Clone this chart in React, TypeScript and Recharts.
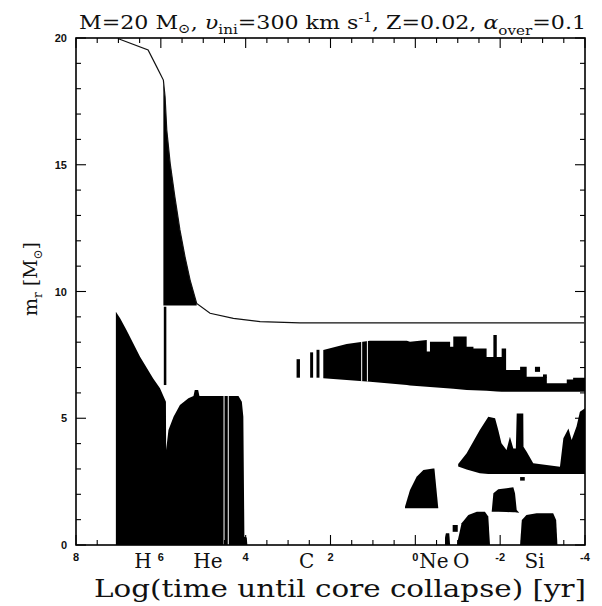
import { Area, ComposedChart, Line, ReferenceLine, XAxis, YAxis } from "recharts";

// [log t, lower m_r, upper m_r] for each convective zone
const coreHHe: [number, number, number][] = [
  [7.06, 0, 9.2], [6.96, 0, 8.94], [6.81, 0, 8.48], [6.49, 0, 7.43], [6.18, 0, 6.57],
  [6.02, 0, 6.18], [5.88, 0, 5.65], [5.875, 0, 3.75], [5.82, 0, 4.54], [5.7, 0, 5.06],
  [5.55, 0, 5.52], [5.35, 0, 5.79], [5.23, 0, 5.88], [5.2, 0, 6.11], [5.12, 0, 6.11],
  [5.09, 0, 5.88], [4.17, 0, 5.88], [4.09, 0, 5.65], [4.055, 0, 5.06], [4.03, 0, 0.33],
  [3.975, 0, 0.3], [3.96, 0, 0],
];
const envelope: [number, number, number][] = [
  [5.94, 9.45, 18.28], [5.9, 9.45, 17.68], [5.86, 9.45, 16.37], [5.78, 9.45, 15.06],
  [5.67, 9.45, 13.74], [5.55, 9.45, 12.43], [5.43, 9.45, 11.37], [5.31, 9.45, 10.45],
  [5.155, 9.45, 9.53],
];
const envelopeTail: [number, number, number][] = [[5.93, 6.31, 9.4], [5.87, 6.31, 9.4]];
const cShell: [number, number, number][] = [
  [2.17, 6.58, 7.69], [1.62, 6.51, 7.93], [1.07, 6.44, 8.06], [0.2, 6.31, 8.06],
  [0.126, 6.29, 8.02], [-0.27, 6.24, 8.09], [-0.27, 6.24, 7.63], [-0.345, 6.23, 7.63],
  [-0.345, 6.23, 8.02], [-0.82, 6.17, 8.02], [-0.82, 6.17, 7.82], [-0.895, 6.16, 7.82],
  [-0.895, 6.16, 8.22], [-1.21, 6.11, 8.22], [-1.21, 6.11, 7.82], [-1.37, 6.1, 7.82],
  [-1.37, 6.1, 7.75], [-1.68, 6.08, 7.75], [-1.68, 6.08, 7.42], [-1.84, 6.07, 7.42],
  [-1.84, 6.07, 8.28], [-1.92, 6.06, 8.28], [-1.92, 6.06, 7.42], [-2.035, 6.05, 7.42],
  [-2.035, 6.05, 7.75], [-2.14, 6.05, 7.75], [-2.14, 6.05, 6.9], [-2.47, 6.05, 6.9],
  [-2.47, 6.05, 7.03], [-2.625, 6.05, 7.03], [-2.625, 6.05, 6.64], [-3.1, 6.05, 6.64],
  [-3.1, 6.05, 6.38], [-3.57, 6.05, 6.38], [-3.57, 6.05, 6.53], [-3.72, 6.05, 6.53],
  [-3.72, 6.05, 6.6], [-4, 6.05, 6.6],
];
const cBar1: [number, number, number][] = [[2.8, 6.6, 7.33], [2.72, 6.6, 7.33]];
const cBar2: [number, number, number][] = [[2.48, 6.6, 7.6], [2.41, 6.6, 7.6]];
const cBar3: [number, number, number][] = [[2.33, 6.6, 7.7], [2.26, 6.6, 7.7]];
const cBlobA: [number, number, number][] = [[-2.82, 6.83, 7.03], [-2.94, 6.83, 7.03]];
const cBlobB: [number, number, number][] = [[-3.01, 6.6, 6.73], [-3.1, 6.6, 6.73]];
const neOShell: [number, number, number][] = [
  [-1.01, 3.1, 3.2], [-1.21, 2.98, 3.62], [-1.52, 2.83, 4.54], [-1.72, 2.8, 5.06],
  [-1.88, 2.8, 5.0], [-1.955, 2.8, 4.54], [-2.03, 2.8, 4.01], [-2.15, 2.8, 3.75],
  [-2.23, 2.8, 4.27], [-2.31, 2.8, 3.81], [-2.37, 2.8, 3.81], [-2.39, 2.8, 5.19],
  [-2.545, 2.8, 5.19], [-2.55, 2.8, 3.88], [-2.625, 2.8, 3.68], [-2.78, 2.8, 3.22],
  [-3.41, 2.8, 3.09], [-3.49, 2.8, 4.21], [-3.61, 2.8, 4.6], [-3.685, 2.8, 4.14],
  [-3.8, 2.8, 4.67], [-3.88, 2.8, 5.26], [-4, 2.8, 5.39],
];
const neShell: [number, number, number][] = [
  [0.244, 1.45, 1.51], [0.126, 1.45, 2.17], [-0.03, 1.45, 2.69], [-0.19, 1.45, 2.96],
  [-0.42, 1.45, 3.02], [-0.45, 1.45, 3.02], [-0.54, 1.45, 1.47],
];
const oShell: [number, number, number][] = [
  [-1.8, 1.31, 1.31], [-1.84, 1.31, 2.04], [-1.955, 1.31, 2.2], [-2.15, 1.3, 2.24],
  [-2.31, 1.29, 2.28], [-2.35, 1.29, 2.04], [-2.39, 1.28, 1.38], [-2.45, 1.27, 1.27],
];
const oBlob: [number, number, number][] = [[-2.47, 2.54, 2.68], [-2.58, 2.54, 2.68]];
const oCoreBump: [number, number, number][] = [[-0.7, 0, 0.3], [-0.72, 0, 0.46], [-0.8, 0, 0.46], [-0.82, 0, 0]];
const oCoreBlob: [number, number, number][] = [[-0.88, 0.52, 0.79], [-1.0, 0.52, 0.79]];
const oCore: [number, number, number][] = [
  [-0.99, 0, 0.1], [-1.09, 0, 0.86], [-1.25, 0, 1.18], [-1.45, 0, 1.31],
  [-1.64, 0, 1.31], [-1.72, 0, 1.12], [-1.76, 0, 0],
];
const siCore: [number, number, number][] = [
  [-2.47, 0, 0], [-2.51, 0, 0.99], [-2.62, 0, 1.18], [-2.86, 0, 1.25],
  [-3.25, 0, 1.25], [-3.32, 0, 0.99], [-3.35, 0, 0],
];
const zones = [
  coreHHe, envelope, envelopeTail, cShell, cBar1, cBar2, cBar3, cBlobA, cBlobB,
  neOShell, neShell, oShell, oBlob, oCoreBump, oCoreBlob, oCore, siCore,
];

// white gaps inside zones: [log t, from, to]
const gaps: [number, number, number][] = [
  [4.51, 0, 5.88], [4.41, 0, 5.88], [1.265, 6.45, 8.05], [1.13, 6.45, 8.05],
];

// total mass (runs along the top frame before log t = 7)
const surface: [number, number][] = [
  [7.0, 19.97], [6.3, 19.53], [6.1, 18.87], [5.94, 18.34], [5.9, 17.68],
  [5.86, 16.37], [5.78, 15.06], [5.67, 13.74], [5.55, 12.43], [5.43, 11.37],
  [5.31, 10.45], [5.155, 9.53], [4.84, 9.14], [4.29, 8.94], [3.66, 8.81],
  [2.72, 8.76], [-3.98, 8.76],
];

const xTicks = [8, 7.5, 7, 6.5, 6, 5.5, 5, 4.5, 4, 3.5, 3, 2.5, 2, 1.5, 1, 0.5, 0, -0.5, -1, -1.5, -2, -2.5, -3, -3.5, -4];
const yTicks = [0, 1, 2, 3, 4, 5, 6, 7, 8, 9, 10, 11, 12, 13, 14, 15, 16, 17, 18, 19, 20];
const elementAt = [6.42, 4.89, 2.56, -0.44, -1.08, -2.81];
const elementNames = ["H", "He", "C", "Ne", "O", "Si"];

const X_MIN = -4, X_MAX = 8, Y_MAX = 20;
const W = 602, H = 606;
const MARGIN = { top: 38, right: 17, bottom: 41, left: 46 };
const Y_AXIS_W = 30, X_AXIS_H = 20;
// plot box implied by the margins and axis sizes above
const BOX = {
  left: MARGIN.left + Y_AXIS_W,
  right: W - MARGIN.right,
  top: MARGIN.top,
  bottom: H - MARGIN.bottom - X_AXIS_H,
};
const sx = (v: number) => BOX.left + ((X_MAX - v) / (X_MAX - X_MIN)) * (BOX.right - BOX.left);
const sy = (v: number) => BOX.bottom - (v / Y_MAX) * (BOX.bottom - BOX.top);

const INK = "black";
const SANS = "'Liberation Sans', Arial, sans-serif";
const SERIF = "'DejaVu Serif', serif";

const isMul = (v: number, m: number) => Math.abs(v / m - Math.round(v / m)) < 1e-6;

function BottomTick(p: any) {
  const v = p.payload.value;
  const ei = elementAt.indexOf(v);
  if (ei >= 0) {
    return (
      <text x={p.x} y={p.y + 23} textAnchor="middle" fontFamily={SERIF} fontSize={20} fill="#111">
        {elementNames[ei]}
      </text>
    );
  }
  if (!isMul(v, 2)) return <g />;
  return (
    <text x={p.x} y={p.y + 16} textAnchor="middle" fontFamily={SANS} fontWeight="bold" fontSize={11} fill="#111">
      {v}
    </text>
  );
}

function LeftTick(p: any) {
  const v = p.payload.value;
  if (!isMul(v, 5)) return <g />;
  return (
    <text x={p.x - 9} y={p.y + 4} textAnchor="end" fontFamily={SANS} fontWeight="bold" fontSize={11} fill="#111">
      {v}
    </text>
  );
}

const toRange = (pts: [number, number, number][]) => pts.map(([x, lo, hi]) => ({ x, r: [lo, hi] }));

export default function App() {
  return (
    <div style={{ position: "absolute", left: 0, top: 0, width: W, height: H, background: "#fff" }}>
      <ComposedChart width={W} height={H} margin={MARGIN}>
        <XAxis dataKey="x" type="number" domain={[X_MIN, X_MAX]} reversed ticks={[...xTicks, ...elementAt]} interval={0}
          height={X_AXIS_H} tickSize={0} tickMargin={0} tickLine={false} axisLine={false} tick={(p: any) => <BottomTick {...p} />} />
        <YAxis type="number" domain={[0, Y_MAX]} ticks={yTicks} interval={0} width={Y_AXIS_W}
          tickSize={0} tickMargin={0} tickLine={false} axisLine={false} tick={(p: any) => <LeftTick {...p} />} />
        {zones.map((z, i) => (
          <Area key={i} data={toRange(z)} dataKey="r" type="linear" fill="#000" fillOpacity={1}
            stroke="none" dot={false} activeDot={false} isAnimationActive={false} />
        ))}
        {gaps.map(([x, lo, hi], i) => (
          <ReferenceLine key={"g" + i} segment={[{ x, y: lo }, { x, y: hi }]} stroke="#fff" strokeWidth={1} />
        ))}
        <Line data={surface.map(([x, m]) => ({ x, y: m }))} dataKey="y" type="linear" stroke="#111"
          strokeWidth={1.2} dot={false} activeDot={false} isAnimationActive={false} />
      </ComposedChart>
      <svg width={W} height={H} style={{ position: "absolute", left: 0, top: 0, pointerEvents: "none" }}>
        {/* frame with inward ticks on all four sides */}
        <rect x={BOX.left} y={BOX.top} width={BOX.right - BOX.left} height={BOX.bottom - BOX.top}
          fill="none" stroke={INK} strokeWidth={1.6} />
        {xTicks.map((v) => {
          const len = isMul(v, 2) ? 10 : 5;
          const x = sx(v);
          return (
            <g key={"x" + v}>
              <line x1={x} y1={BOX.bottom} x2={x} y2={BOX.bottom - len} stroke={INK} strokeWidth={1.1} />
              <line x1={x} y1={BOX.top} x2={x} y2={BOX.top + len} stroke={INK} strokeWidth={1.1} />
            </g>
          );
        })}
        {yTicks.map((v) => {
          const len = isMul(v, 5) ? 10 : 5;
          const y = sy(v);
          return (
            <g key={"y" + v}>
              <line x1={BOX.left} y1={y} x2={BOX.left + len} y2={y} stroke={INK} strokeWidth={1.1} />
              <line x1={BOX.right} y1={y} x2={BOX.right - len} y2={y} stroke={INK} strokeWidth={1.1} />
            </g>
          );
        })}
        <text x={79} y={29} textLength={507} lengthAdjust="spacingAndGlyphs" fontFamily={SERIF} fontSize={19} fill="#111">
          M=20 M<tspan dy={4} fontSize={13}>⊙</tspan>
          <tspan dy={-4}>, </tspan>
          <tspan fontStyle="italic">υ</tspan>
          <tspan dy={5} fontSize={13}>ini</tspan>
          <tspan dy={-5}>=300 km s</tspan>
          <tspan dy={-7} fontSize={12}>-1</tspan>
          <tspan dy={7}>, Z=0.02, </tspan>
          <tspan fontStyle="italic">α</tspan>
          <tspan dy={6} fontSize={13}>over</tspan>
          <tspan dy={-6}>=0.1</tspan>
        </text>
        <text x={94} y={597} textLength={492} lengthAdjust="spacingAndGlyphs" fontFamily={SERIF} fontSize={24} fill="#111">
          Log(time until core collapse) [yr]
        </text>
        <text transform="translate(37,316) rotate(-90)" textLength={74} lengthAdjust="spacingAndGlyphs"
          fontFamily={SERIF} fontSize={19} fill="#111">
          m<tspan dy={5} fontSize={12}>r</tspan>
          <tspan dy={-5}> [M</tspan>
          <tspan dy={5} fontSize={12}>⊙</tspan>
          <tspan dy={-5}>]</tspan>
        </text>
      </svg>
    </div>
  );
}
